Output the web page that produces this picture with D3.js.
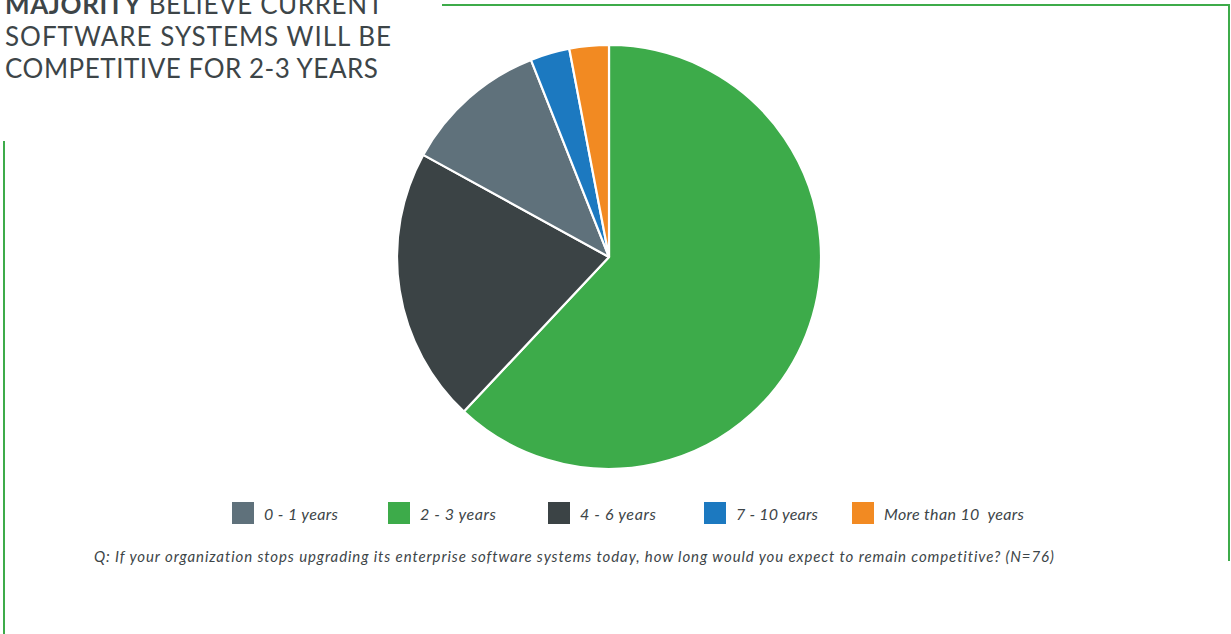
<!DOCTYPE html>
<html><head><meta charset="utf-8">
<script src="https://cdn.jsdelivr.net/npm/d3@7"></script>
<style>
html,body{margin:0;padding:0;background:#fff;}
svg{display:block;}
</style></head>
<body>
<svg id="chart" width="1231" height="634"></svg>
<script>
const categories = ["0 - 1 years", "2 - 3 years", "4 - 6 years", "7 - 10 years", "More than 10  years"];
const values = [11, 62, 21, 3, 3];
const colors = ["#5f717b", "#3dab4a", "#3b4345", "#1c79c0", "#f28a22"];
const pieOrder = [1, 2, 0, 3, 4]; // clockwise drawing order from 12 o'clock
const titleLines = [
  [{t:"MAJORITY", b:true}, {t:" BELIEVE CURRENT", b:false}],
  [{t:"SOFTWARE SYSTEMS WILL BE", b:false}],
  [{t:"COMPETITIVE FOR 2-3 YEARS", b:false}]
];
const footnote = "Q: If your organization stops upgrading its enterprise software systems today, how long would you expect to remain competitive? (N=76)";

const svg = d3.select("#chart");
const green = "#3dab4a";
const font = "Lato, 'Open Sans', sans-serif";

function fitWidth(sel, target) {
  const node = sel.node();
  const w = node.getComputedTextLength();
  const n = node.textContent.length;
  if (w > 0 && n > 1) sel.attr("letter-spacing", ((target - w) / (n - 1)).toFixed(3));
}

// frame lines
svg.append("line").attr("x1",442).attr("x2",1230).attr("y1",5).attr("y2",5).attr("stroke",green).attr("stroke-width",2);
svg.append("line").attr("x1",1229).attr("x2",1229).attr("y1",4).attr("y2",561).attr("stroke",green).attr("stroke-width",2);
svg.append("line").attr("x1",4).attr("x2",4).attr("y1",141).attr("y2",634).attr("stroke",green).attr("stroke-width",2);

// title
const tY = [14, 46, 78];
const targetW = [378, 386, 373];
titleLines.forEach((parts, i) => {
  const t = svg.append("text").attr("x",5).attr("y",tY[i])
    .attr("font-family",font).attr("font-size",26).attr("fill","#3d4548");
  parts.forEach(p => t.append("tspan").text(p.t).attr("font-weight", p.b ? 700 : 400));
  fitWidth(t, targetW[i]);
});

// pie
const cx = 609, cy = 257, r = 212;
const ordered = pieOrder.map(i => ({cat: categories[i], value: values[i], color: colors[i]}));
const pie = d3.pie().value(d => d.value).sort(null);
const arc = d3.arc().innerRadius(0).outerRadius(r);
svg.append("g").attr("transform",`translate(${cx},${cy})`)
  .selectAll("path").data(pie(ordered)).join("path")
  .attr("d", arc).attr("fill", d => d.data.color)
  .attr("stroke","#fff").attr("stroke-width",2.2).attr("stroke-linejoin","round");

// legend
const legX = [232, 388, 548, 704, 852];
const legW = [74, 76, 76, 82, 140];
const lg = svg.append("g");
categories.forEach((c,i) => {
  lg.append("rect").attr("x",legX[i]).attr("y",502).attr("width",22).attr("height",22).attr("fill",colors[i]);
  const t = lg.append("text").attr("x",legX[i]+32).attr("y",520).text(c)
    .attr("font-family",font).attr("font-style","italic").attr("font-weight",400)
    .attr("font-size",16).attr("fill","#3d4548").attr("xml:space","preserve").style("white-space","pre");
  fitWidth(t, legW[i]);
});

// footnote
const fn = svg.append("text").attr("x",94).attr("y",562).text(footnote)
  .attr("font-family",font).attr("font-style","italic").attr("font-weight",400)
  .attr("font-size",15).attr("fill","#3d4548");
fitWidth(fn, 959);
</script>
</body></html>
